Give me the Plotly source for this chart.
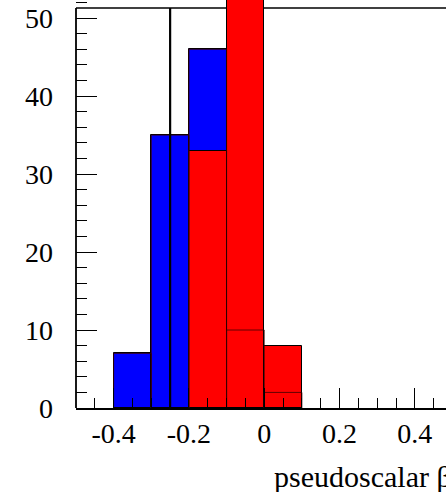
import plotly.graph_objects as go

# bin centres (bin width 0.1)
blue_centers = [-0.35, -0.25, -0.15, -0.05, 0.05]
blue_counts = [7, 35, 46, 10, 2]
red_centers = [-0.15, -0.05, 0.05]
red_counts = [33, 62, 8]
bin_width = 0.1
cut_value = -0.25
frame_top = 51.3
x_min = -0.5

x_tickvals = [-0.4, -0.2, 0, 0.2, 0.4]
x_ticktext = ["-0.4", "-0.2", "0", "0.2", "0.4"]
y_tickvals = [0, 10, 20, 30, 40, 50]
y_ticktext = ["0", "10", "20", "30", "40", "50"]
x_title = "pseudoscalar β"

FONT = "Liberation Serif"
Y_MAX = 408 / 7.797

fig = go.Figure()
fig.add_trace(go.Bar(x=blue_centers, y=blue_counts, width=bin_width,
                     marker=dict(color="#0000ff", line=dict(color="black", width=1))))
fig.add_trace(go.Bar(x=red_centers, y=red_counts, width=bin_width,
                     marker=dict(color="#ff0000", line=dict(color="black", width=1))))

# blue outline redrawn on top
edges_x = []
edges_y = []
for c, v in zip(blue_centers, blue_counts):
    edges_x += [c - bin_width / 2, c - bin_width / 2, c + bin_width / 2, c + bin_width / 2]
    edges_y += [0, v, v, 0]
fig.add_trace(go.Scatter(x=edges_x, y=edges_y, mode="lines",
                         line=dict(color="rgba(60,0,0,0.8)", width=1), hoverinfo="skip"))

# cut line
fig.add_shape(type="line", x0=cut_value, x1=cut_value, y0=0, y1=frame_top,
              line=dict(color="black", width=2.2))
# frame: top line (under the bars) and left axis line
fig.add_shape(type="line", x0=0, x1=1, xref="paper", y0=frame_top, y1=frame_top,
              line=dict(color="black", width=1.5), layer="below")
fig.add_shape(type="line", x0=0, x1=0, xref="paper", y0=0, y1=frame_top / Y_MAX, yref="paper",
              line=dict(color="black", width=1.8))

PLOT_W = 400  # plot area width in px (extends past the visible window)
fig.add_annotation(text=x_title, xref="paper", yref="paper", x=(272 - 76) / PLOT_W,
                   y=-(476 - 408) / 408,
                   xanchor="left", yanchor="middle", showarrow=False,
                   font=dict(family=FONT, size=30, color="black"))

fig.update_layout(
    width=476 + 60, height=492,
    margin=dict(l=76, r=60, t=0, b=84, autoexpand=False),
    barmode="overlay", bargap=0, showlegend=False,
    plot_bgcolor="white", paper_bgcolor="white",
    font=dict(family=FONT, size=28, color="black"),
    xaxis=dict(range=[x_min, x_min + PLOT_W / 376.5], tickvals=x_tickvals, ticktext=x_ticktext,
               ticks="inside", ticklen=20, tickwidth=1.3, tickcolor="black",
               showline=True, linecolor="black", linewidth=1.5, mirror=False,
               showgrid=False, zeroline=False, ticklabelstandoff=0, automargin=False,
               minor=dict(dtick=0.05, tick0=0, ticks="inside", ticklen=10,
                          tickcolor="black", tickwidth=1.3, showgrid=False)),
    yaxis=dict(range=[0, Y_MAX], tickvals=y_tickvals, ticktext=y_ticktext,
               ticks="inside", ticklen=21, tickwidth=1.3, tickcolor="black",
               showline=False, mirror=False,
               showgrid=False, zeroline=False, ticklabelstandoff=22, automargin=False,
               minor=dict(dtick=2, tick0=0, ticks="inside", ticklen=11,
                          tickcolor="black", tickwidth=1.3, showgrid=False)),
)

fig.write_html("out.html", config={"displayModeBar": False},
               post_script="document.body.style.margin='0px';document.body.style.overflow='hidden';")
